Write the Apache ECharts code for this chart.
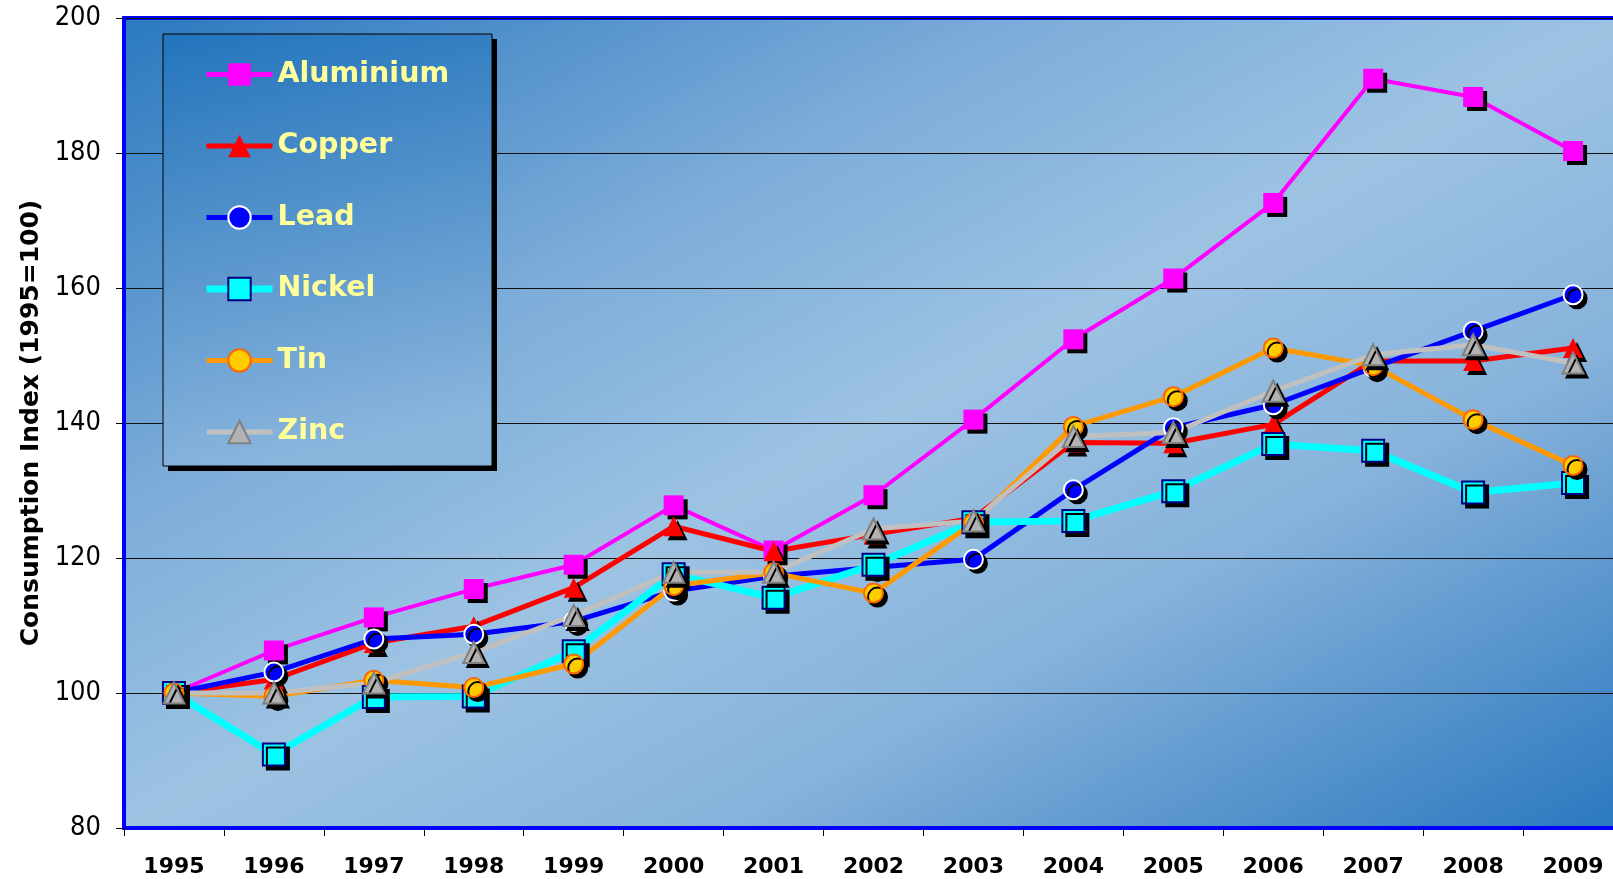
<!DOCTYPE html>
<html>
<head>
<meta charset="utf-8">
<script src="https://cdn.jsdelivr.net/npm/echarts@6/dist/echarts.min.js"></script>
<style>
  html, body { margin: 0; padding: 0; background: #fff; }
  #main { width: 1613px; height: 879px; }
</style>
</head>
<body>
<div id="main"></div>
<script>
var years = ['1995', '1996', '1997', '1998', '1999', '2000', '2001', '2002', '2003', '2004', '2005', '2006', '2007', '2008', '2009'];
var aluminium = [100, 106.3, 111.2, 115.4, 119.0, 127.8, 121.1, 129.3, 140.5, 152.4, 161.4, 172.6, 191.0, 188.3, 180.3];
var copper = [100, 102.0, 107.4, 109.9, 115.6, 124.7, 121.0, 123.5, 125.9, 137.1, 137.0, 139.8, 149.2, 149.2, 151.1];
var lead = [100, 103.1, 108.0, 108.7, 110.6, 115.1, 117.3, 118.6, 119.8, 130.1, 139.3, 142.7, 148.2, 153.6, 159.0];
var nickel = [100, 90.9, 99.4, 99.5, 106.2, 117.6, 114.1, 119.0, 125.3, 125.5, 129.9, 136.9, 135.9, 129.7, 131.1];
var tin = [100, 99.5, 101.9, 100.8, 104.3, 115.9, 117.8, 114.8, 125.2, 139.5, 143.9, 151.1, 148.5, 140.5, 133.7];
var zinc = [100, 100.0, 101.5, 106.0, 111.5, 117.9, 117.9, 124.3, 125.5, 138.0, 138.6, 144.7, 150.1, 151.6, 148.9];
var yTicks = [80, 100, 120, 140, 160, 180, 200];

var myChart = echarts.init(document.getElementById('main'));

// black drop shadow under every marker
var shadow = {shadowColor: '#000', shadowOffsetX: 4, shadowOffsetY: 4, shadowBlur: 0};

function mkSeries(name, data, color, width, symbol, size, fill, border, borderW) {
    return {
        name: name,
        type: 'line',
        data: data,
        symbol: symbol,
        symbolSize: size,
        lineStyle: {color: color, width: width},
        itemStyle: Object.assign({color: fill, borderColor: border, borderWidth: borderW}, shadow),
        emphasis: {disabled: true},
        animation: false
    };
}

function legendItem(name, width) {
    return {name: name, lineStyle: {width: width}};
}

var option = {
    backgroundColor: '#fff',
    grid: {
        left: 124,
        top: 18,
        width: 1499,
        bottom: 51,
        outerBoundsMode: 'none',
        containLabel: false,
        show: true,
        borderColor: '#0000ff',
        borderWidth: 4,
        backgroundColor: {
            type: 'linear', x: 124, y: 18, x2: 801, y2: 1272, global: true,
            colorStops: [
                {offset: 0, color: '#2b79bf'},
                {offset: 0.3, color: '#7cacd9'},
                {offset: 0.5, color: '#9dc3e3'},
                {offset: 0.7, color: '#86b2db'},
                {offset: 1, color: '#2a78bf'}
            ]
        }
    },
    graphic: [
        {type: 'rect', shape: {x: 168, y: 39, width: 329, height: 432}, style: {fill: '#000'}, z: 3},
        {
            type: 'rect', shape: {x: 163, y: 34, width: 329, height: 432},
            style: {
                fill: {
                    type: 'linear', x: 0, y: 0, x2: 0.3, y2: 1,
                    colorStops: [{offset: 0, color: '#2374bc'}, {offset: 1, color: '#8ab5dd'}]
                },
                stroke: '#000', lineWidth: 1
            },
            z: 3
        }
    ],
    legend: {
        orient: 'vertical',
        left: 198,
        top: 55,
        itemWidth: 66,
        itemHeight: 28,
        itemGap: 42.5,
        z: 5,
        textStyle: {color: '#ffff99', fontSize: 28.5, fontWeight: 'bold', fontFamily: 'DejaVu Sans'},
        itemStyle: {shadowColor: 'rgba(0,0,0,0)', shadowOffsetX: 0, shadowOffsetY: 0},
        data: [
            legendItem('Aluminium', 5),
            legendItem('Copper', 5),
            legendItem('Lead', 5),
            legendItem('Nickel', 7),
            legendItem('Tin', 5),
            legendItem('Zinc', 5)
        ]
    },
    xAxis: {
        type: 'category',
        data: years,
        boundaryGap: true,
        axisLine: {lineStyle: {color: '#0000ff', width: 4}},
        axisTick: {show: true, length: 8, lineStyle: {color: '#000', width: 1}},
        axisLabel: {color: '#000', fontSize: 22, fontWeight: 'bold', fontFamily: 'DejaVu Sans', margin: 28}
    },
    yAxis: {
        type: 'value',
        min: yTicks[0],
        max: yTicks[yTicks.length - 1],
        interval: 20,
        name: 'Consumption Index (1995=100)',
        nameLocation: 'middle',
        nameGap: 80,
        nameTextStyle: {color: '#000', fontSize: 25, fontWeight: 'bold', fontFamily: 'DejaVu Sans'},
        axisLine: {show: true, lineStyle: {color: '#0000ff', width: 4}},
        axisTick: {show: true, length: 8, lineStyle: {color: '#000'}},
        axisLabel: {color: '#000', fontSize: 27, fontFamily: 'Tahoma, DejaVu Sans Condensed, DejaVu Sans', margin: 23},
        splitLine: {lineStyle: {color: '#111', width: 1}}
    },
    series: [
        mkSeries('Aluminium', aluminium, '#ff00ff', 4, 'rect', 20, '#ff00ff', '#ff00ff', 0),
        mkSeries('Copper', copper, '#ff0000', 5, 'triangle', 20, '#ff0000', '#ff0000', 0),
        mkSeries('Lead', lead, '#0000ff', 5, 'circle', 19, '#0000ff', '#ffffff', 2),
        mkSeries('Nickel', nickel, '#00ffff', 7, 'rect', 22, '#00ffff', '#000080', 2),
        mkSeries('Tin', tin, '#ff9900', 5, 'circle', 19, '#ffcc00', '#ff6600', 2),
        mkSeries('Zinc', zinc, '#c0c0c0', 5, 'triangle', 21, '#b2b2b2', '#808080', 2)
    ]
};
myChart.setOption(option);
</script>
</body>
</html>
